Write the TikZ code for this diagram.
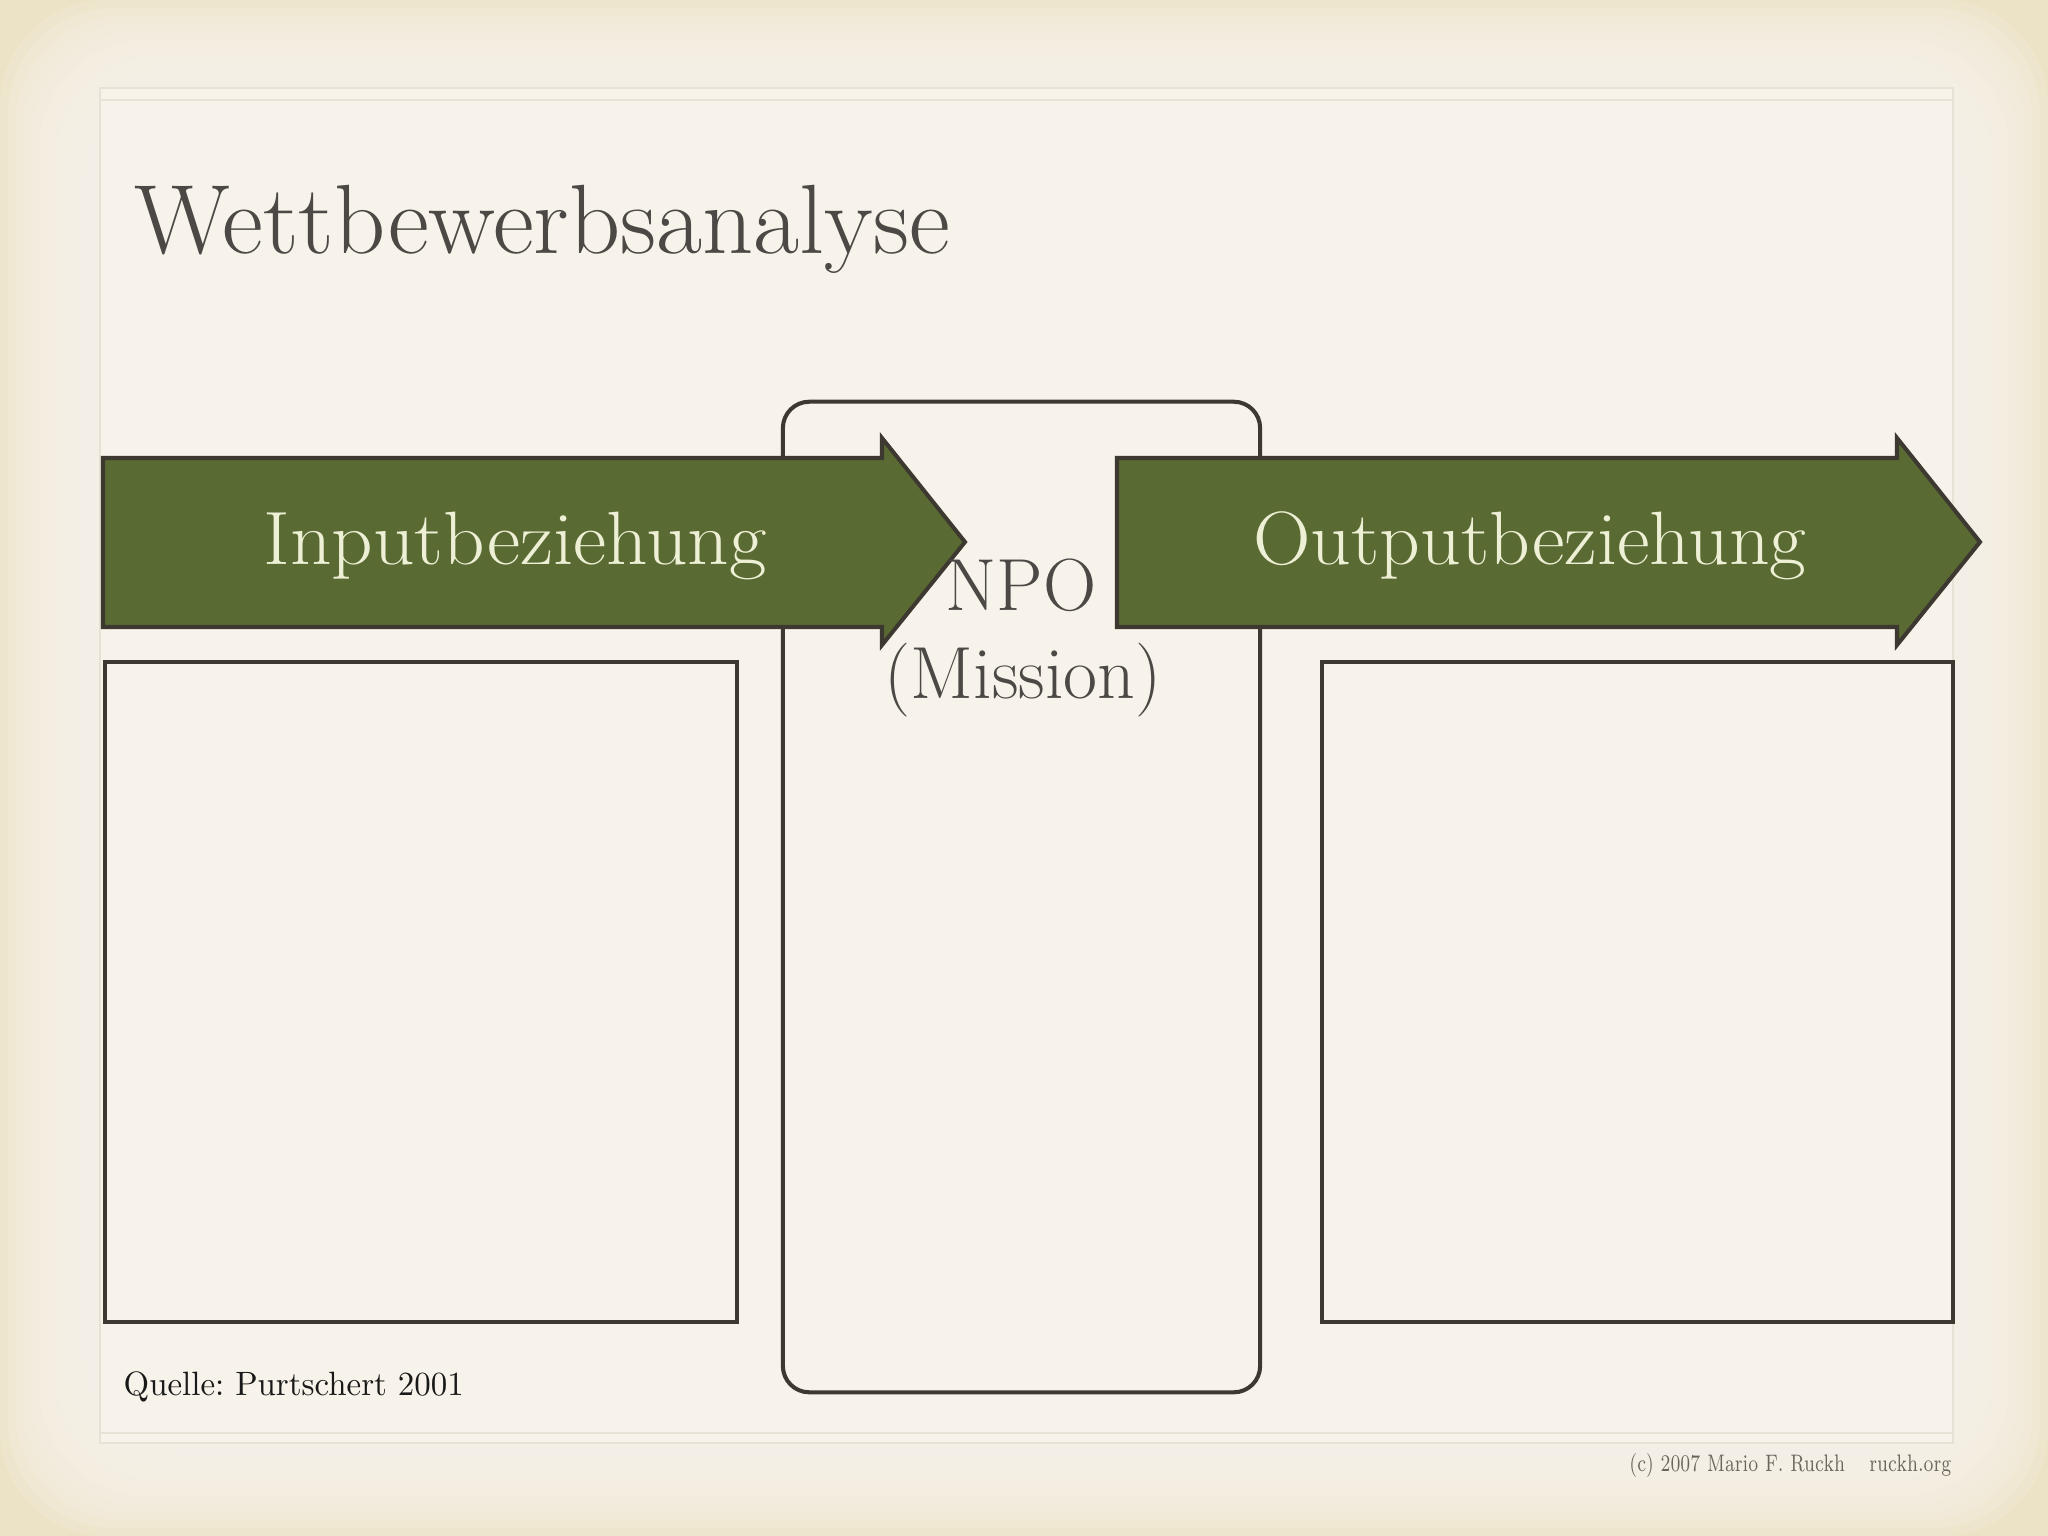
\documentclass[tikz,border=0pt]{standalone}
\usepackage{fontspec}
\definecolor{bgouter}{HTML}{ECE2C6}
\definecolor{bginner}{HTML}{F8F3EA}
\definecolor{framecol}{HTML}{E6E2D5}
\definecolor{arrowgreen}{HTML}{5A6A33}
\definecolor{strokecol}{HTML}{3D3830}
\definecolor{titlecol}{HTML}{4B4845}
\definecolor{arrowtext}{HTML}{EEF0D6}
\definecolor{footcol}{HTML}{6A655E}
\tikzset{
  panel/.style={draw=strokecol, line width=1.15pt, fill=bginner, inner sep=0pt},
  arrowshape/.style={draw=strokecol, line width=1.15pt, fill=arrowgreen, line join=miter},
  arrowlabel/.style={text=arrowtext, font=\fontsize{21.5}{24}\selectfont, anchor=base, inner sep=0pt},
  npolabel/.style={text=titlecol, font=\fontsize{21}{24}\selectfont, anchor=base, inner sep=0pt},
}
\begin{document}
\frenchspacing
\begin{tikzpicture}[x=0.01cm,y=-0.01cm]
\useasboundingbox (0,0) rectangle (2048,1536);
% background with soft vignette
\fill[bgouter] (0,0) rectangle (2048,1536);
\foreach \i in {0,...,11} {
  \fill[bginner, opacity=0.22, rounded corners=30pt] (8*\i,8*\i) rectangle (2048-8*\i,1536-8*\i);
}
\fill[bginner] (100,88) rectangle (1953,1443);
% slide frame
\draw[framecol, line width=0.7pt] (100,88) rectangle (1953,1443);
\draw[framecol, line width=0.7pt] (100,100) -- (1953,100);
\draw[framecol, line width=0.7pt] (100,1433) -- (1953,1433);
% title
\node[anchor=base west, inner sep=0pt, text=titlecol, font=\fontsize{28}{32}\selectfont] (title) at (134,253) {\scalebox{1.018}[1]{Wettbewerbsanalyse}};
% NPO box
\node[panel, rounded corners=7.5pt, minimum width=4.77cm, minimum height=9.9cm] (npo) at (1021.5,897) {};
% side boxes
\node[panel, minimum width=6.32cm, minimum height=6.6cm] (inbox) at (421,992) {};
\node[panel, minimum width=6.31cm, minimum height=6.6cm] (outbox) at (1637.5,992) {};
% arrows
\draw[arrowshape] (103,458) -- (882,458) -- (882,438) -- (965,542) -- (882,645) -- (882,627) -- (103,627) -- cycle;
\draw[arrowshape] (1117,458) -- (1897,458) -- (1897,438) -- (1980,542) -- (1897,645) -- (1897,627) -- (1117,627) -- cycle;
\node[arrowlabel] (inlabel) at (515,564) {\scalebox{1.075}[1]{Inputbeziehung}};
\node[arrowlabel] (outlabel) at (1530,564) {\scalebox{1.055}[1]{Outputbeziehung}};
% NPO text
\node[npolabel] (npo1) at (1021,610) {NPO};
\node[npolabel] (npo2) at (1023,698) {(Mission)};
% source
\node[anchor=base west, inner sep=0pt, text=black!90, font=\fontsize{9.6}{11}\selectfont] (quelle) at (123,1395) {\scalebox{0.975}[1]{Quelle: Purtschert 2001}};
% footer
\node[anchor=base east, inner sep=0pt, text=footcol, font=\fontsize{6.8}{8}\selectfont] (footer) at (1952,1471) {\scalebox{0.73}[1]{(c) 2007 Mario F. Ruckh\hspace{9.5pt}ruckh.org}};
\end{tikzpicture}
\end{document}
